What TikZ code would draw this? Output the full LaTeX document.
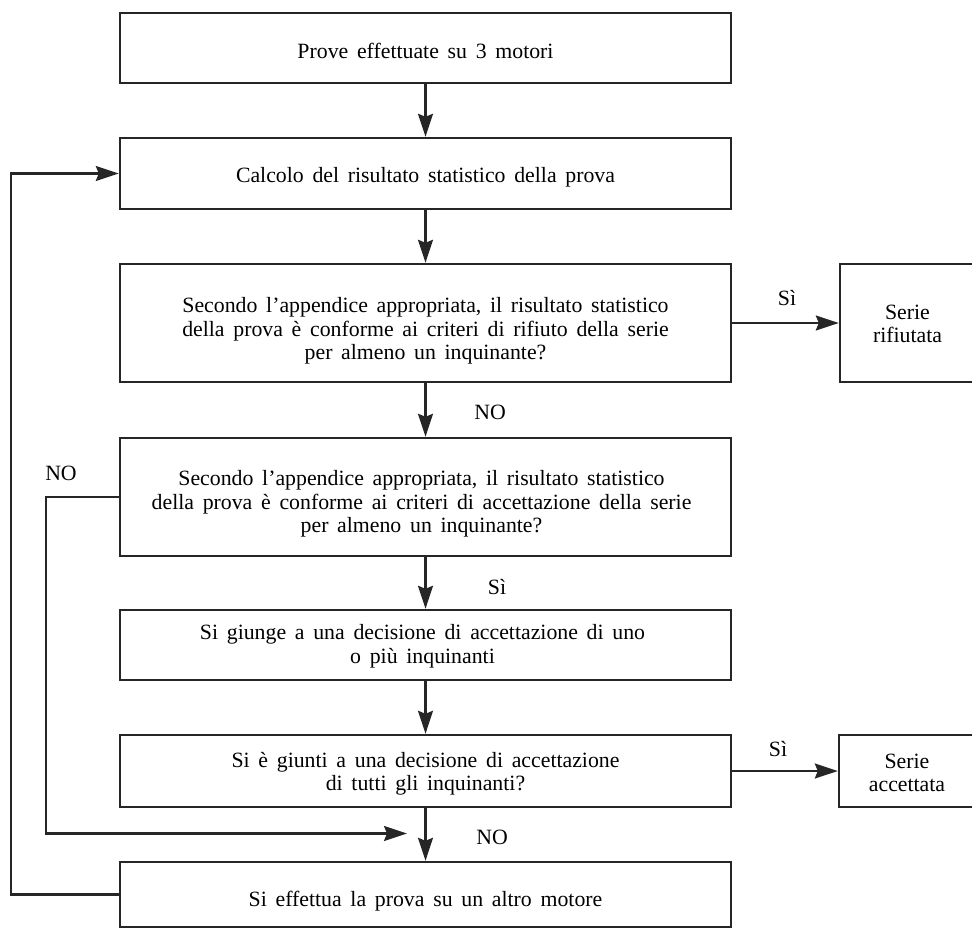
\documentclass[tikz,border=0pt]{standalone}
\usepackage{fontspec}
\setmainfont{Liberation Serif}[WordSpace=1.6]
\usetikzlibrary{arrows.meta}
\begin{document}
\begin{tikzpicture}[x=1pt,y=-1pt,
  txt/.style={font=\fontsize{21.8}{23.5}\selectfont, align=center, inner sep=0pt},
  box/.style={draw=black!85, line width=2.4pt, minimum width=611pt, inner sep=0pt},
  arr/.style={-{Stealth[length=23pt,width=15pt,inset=3pt]}, draw=black!85, line width=2.2pt},
  lbl/.style={txt}]
\useasboundingbox (0,0) rectangle (972,929);
\node[box, minimum height=70pt] (b1) at (425.5,48) {};
\node[box, minimum height=71pt] (b2) at (425.5,173.5) {};
\node[box, minimum height=118pt] (b3) at (425.5,323) {};
\node[box, minimum height=118pt] (b4) at (425.5,497) {};
\node[box, minimum height=70pt] (b5) at (425.5,645) {};
\node[box, minimum height=72pt] (b6) at (425.5,771) {};
\node[box, minimum height=65pt] (b7) at (425.5,894.5) {};
\node[box, minimum width=135pt, minimum height=118pt] (rif) at (907.5,323) {};
\node[box, minimum width=136pt, minimum height=72pt] (acc) at (907,771) {};
\node[txt] (t1) at ([yshift=-3pt]b1.center) {Prove effettuate su 3 motori};
\node[txt] (t2) at ([yshift=-4pt]b2.center) {Calcolo del risultato statistico della prova};
\node[txt] (t3) at ([yshift=-8pt]b3.center) {Secondo l’appendice appropriata, il risultato statistico\\della prova è conforme ai criteri di rifiuto della serie\\per almeno un inquinante?};
\node[txt] (t4) at ([xshift=-4pt,yshift=-7pt]b4.center) {Secondo l’appendice appropriata, il risultato statistico\\della prova è conforme ai criteri di accettazione della serie\\per almeno un inquinante?};
\node[txt] (t5) at ([xshift=-3pt,yshift=-1pt]b5.center) {Si giunge a una decisione di accettazione di uno\\o più inquinanti};
\node[txt] (t6) at ([yshift=-3pt]b6.center) {Si è giunti a una decisione di accettazione\\di tutti gli inquinanti?};
\node[txt] (t7) at ([yshift=-7pt]b7.center) {Si effettua la prova su un altro motore};
\node[txt] (t8) at ([yshift=-1pt]rif.center) {Serie\\rifiutata};
\node[txt] (t9) at ([yshift=-2pt]acc.center) {Serie\\accettata};
\coordinate (m) at (407,833.5);
\draw[arr] (b1.south) -- (b2.north);
\draw[arr] (b2.south) -- (b3.north);
\draw[arr] (b3.south) -- (b4.north);
\draw[arr] (b4.south) -- (b5.north);
\draw[arr] (b5.south) -- (b6.north);
\draw[arr] (b6.south) -- (b7.north);
\draw[arr] (b3.east) -- (rif.west);
\draw[arr] (b6.east) -- (acc.west);
\draw[arr] (b4.west) -- ++(-73,0) |- (m);
\draw[arr] (b7.west) -- ++(-108,0) |- (b2.west);
\node[lbl] (l1) at (490,412) {NO};
\node[lbl] (l2) at (497,587) {Sì};
\node[lbl] (l3) at (492,837) {NO};
\node[lbl] (l4) at (787,298) {Sì};
\node[lbl] (l5) at (778,749) {Sì};
\node[lbl] (l6) at (61,473) {NO};
\end{tikzpicture}
\end{document}
